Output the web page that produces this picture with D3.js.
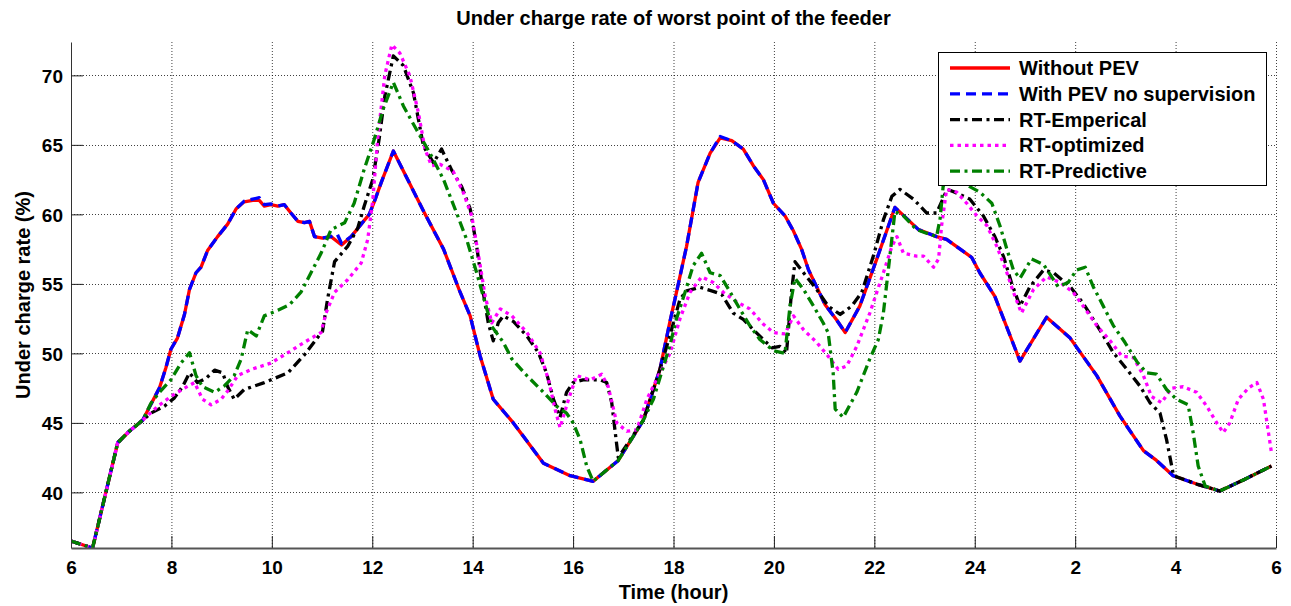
<!DOCTYPE html>
<html>
<head>
<meta charset="utf-8">
<script src="https://cdn.jsdelivr.net/npm/d3@7"></script>
<style>
  html, body { margin: 0; padding: 0; background: #fff; }
  svg { display: block; font-family: "Liberation Sans", Arial, sans-serif; }
</style>
</head>
<body>
<svg id="chart" width="1291" height="606"></svg>
<script>
// ---------------- DATA ----------------
const xTickValues = [6, 8, 10, 12, 14, 16, 18, 20, 22, 24, 26, 28, 30];
const xTickLabels = ["6", "8", "10", "12", "14", "16", "18", "20", "22", "24", "2", "4", "6"];
const yTickValues = [40, 45, 50, 55, 60, 65, 70];

const seriesNames = ["Without PEV", "With PEV no supervision", "RT-Emperical", "RT-optimized", "RT-Predictive"];

const withoutPevTime = [6, 6.43, 6.93, 7.16, 7.43, 7.6, 7.76, 7.89, 7.99, 8.12, 8.26, 8.36, 8.49, 8.59, 8.72, 8.92, 9.12, 9.29, 9.45, 9.62, 9.75, 9.85, 9.98, 10.12, 10.25, 10.38, 10.52, 10.65, 10.75, 10.85, 11.01, 11.18, 11.39, 11.58, 11.78, 11.94, 12.04, 12.18, 12.42, 13.02, 13.42, 13.75, 13.95, 14.15, 14.41, 14.81, 15.41, 15.94, 16.4, 16.9, 17.4, 17.73, 17.93, 18.06, 18.26, 18.49, 18.73, 18.93, 19.16, 19.39, 19.59, 19.79, 19.99, 20.22, 20.39, 20.55, 20.69, 20.85, 21.02, 21.25, 21.42, 21.71, 22.05, 22.41, 22.88, 23.24, 23.44, 23.71, 23.94, 24.1, 24.4, 24.9, 25.43, 25.9, 26.43, 26.89, 27.36, 27.62, 27.95, 28.42, 28.88, 29.35, 29.91];
const withoutPevValue = [36.5, 36.0, 43.57, 44.4, 45.2, 46.4, 47.5, 48.97, 50.3, 51.1, 52.8, 54.6, 55.8, 56.2, 57.4, 58.4, 59.3, 60.4, 60.9, 61.0, 61.0, 60.6, 60.7, 60.6, 60.7, 60.1, 59.5, 59.4, 59.5, 58.4, 58.3, 58.4, 57.8, 58.4, 59.3, 60.0, 60.9, 62.3, 64.56, 60.24, 57.5, 54.4, 52.7, 49.8, 46.7, 45.0, 42.1, 41.2, 40.8, 42.3, 45.2, 48.85, 52.3, 54.4, 57.7, 62.3, 64.4, 65.5, 65.3, 64.7, 63.5, 62.5, 60.8, 59.9, 58.8, 57.5, 56.0, 54.8, 53.5, 52.4, 51.5, 53.4, 56.8, 60.5, 58.9, 58.4, 58.2, 57.5, 56.9, 55.8, 54.1, 49.45, 52.6, 51.1, 48.4, 45.5, 43.0, 42.3, 41.2, 40.6, 40.1, 40.9, 41.9];

const withPevTime = [6, 6.43, 6.93, 7.16, 7.43, 7.6, 7.76, 7.89, 7.99, 8.12, 8.26, 8.36, 8.49, 8.59, 8.72, 8.92, 9.12, 9.29, 9.45, 9.62, 9.75, 9.85, 9.98, 10.12, 10.25, 10.38, 10.52, 10.65, 10.75, 10.85, 11.01, 11.18, 11.3, 11.39, 11.58, 11.78, 11.94, 12.04, 12.18, 12.42, 13.02, 13.42, 13.75, 13.95, 14.15, 14.41, 14.81, 15.41, 15.94, 16.4, 16.9, 17.4, 17.73, 17.93, 18.06, 18.26, 18.49, 18.73, 18.93, 19.16, 19.39, 19.59, 19.79, 19.99, 20.22, 20.39, 20.55, 20.69, 20.85, 21.02, 21.25, 21.42, 21.71, 22.05, 22.41, 22.88, 23.24, 23.44, 23.71, 23.94, 24.1, 24.4, 24.9, 25.43, 25.9, 26.43, 26.89, 27.36, 27.62, 27.95, 28.42, 28.88, 29.35, 29.91];
const withPevValue = [36.5, 36.0, 43.57, 44.4, 45.2, 46.4, 47.5, 48.97, 50.3, 51.1, 52.8, 54.6, 55.8, 56.2, 57.4, 58.4, 59.3, 60.4, 60.95, 61.1, 61.2, 60.7, 60.75, 60.6, 60.7, 60.1, 59.5, 59.4, 59.5, 58.4, 58.3, 58.4, 58.6, 57.9, 58.4, 59.3, 60.0, 60.9, 62.3, 64.56, 60.24, 57.5, 54.4, 52.7, 49.8, 46.7, 45.0, 42.1, 41.2, 40.8, 42.3, 45.2, 48.85, 52.3, 54.4, 57.7, 62.3, 64.4, 65.6, 65.3, 64.7, 63.5, 62.5, 60.8, 59.9, 58.8, 57.5, 56.0, 54.8, 53.5, 52.4, 51.5, 53.4, 56.8, 60.5, 58.9, 58.4, 58.2, 57.5, 56.9, 55.8, 54.1, 49.45, 52.6, 51.1, 48.4, 45.5, 43.0, 42.3, 41.2, 40.6, 40.1, 40.9, 41.9];

const empiricalTime = [6, 6.43, 6.93, 7.16, 7.43, 7.59, 7.86, 8.06, 8.22, 8.36, 8.52, 8.69, 8.86, 9.02, 9.12, 9.25, 9.45, 9.85, 10.32, 10.65, 11.01, 11.11, 11.25, 11.51, 11.71, 11.84, 12.01, 12.14, 12.25, 12.42, 12.62, 12.82, 13.02, 13.22, 13.38, 13.58, 13.78, 13.95, 14.08, 14.21, 14.31, 14.41, 14.51, 14.61, 14.81, 15.08, 15.31, 15.47, 15.61, 15.74, 15.87, 16.0, 16.2, 16.54, 16.67, 16.77, 16.84, 16.9, 17.4, 17.73, 17.93, 18.13, 18.26, 18.53, 18.76, 18.96, 19.19, 19.39, 19.59, 19.79, 19.96, 20.12, 20.25, 20.35, 20.42, 20.59, 20.85, 21.08, 21.32, 21.55, 21.75, 21.98, 22.18, 22.35, 22.51, 22.78, 23.04, 23.24, 23.45, 23.6, 23.9, 24.17, 24.4, 24.57, 24.73, 24.9, 25.1, 25.37, 25.57, 25.9, 26.16, 26.49, 26.76, 27.03, 27.29, 27.49, 27.69, 27.82, 27.96, 28.42, 28.88, 29.35, 29.91];
const empiricalValue = [36.5, 36.0, 43.57, 44.4, 45.2, 45.7, 46.2, 46.8, 47.6, 48.6, 47.9, 48.2, 48.8, 48.6, 47.6, 46.7, 47.4, 47.9, 48.6, 49.9, 51.6, 53.9, 56.6, 57.7, 59.0, 60.6, 62.5, 65.5, 68.5, 71.4, 70.7, 68.75, 64.9, 63.7, 64.7, 63.2, 62.0, 60.4, 57.7, 54.4, 52.2, 50.9, 52.2, 52.7, 52.3, 51.25, 50.05, 48.6, 46.7, 45.4, 47.2, 47.9, 48.1, 48.1, 47.9, 46.45, 44.3, 42.5, 45.2, 48.85, 51.3, 53.9, 54.5, 54.75, 54.5, 54.25, 52.9, 52.45, 51.7, 51.0, 50.4, 50.5, 50.0, 54.4, 56.6, 55.8, 54.6, 53.4, 52.8, 53.4, 54.4, 57.0, 59.6, 61.3, 61.8, 61.1, 60.1, 60.1, 61.8, 61.6, 61.1, 59.9, 58.4, 57.0, 55.1, 53.4, 54.8, 56.0, 55.8, 54.8, 53.6, 51.7, 50.05, 48.85, 47.65, 46.45, 45.7, 43.8, 41.2, 40.6, 40.1, 40.9, 41.9];

const optimizedTime = [6, 6.43, 6.93, 7.16, 7.43, 7.73, 7.99, 8.26, 8.46, 8.62, 8.79, 8.99, 9.12, 9.32, 9.59, 9.98, 10.32, 10.65, 10.98, 11.08, 11.25, 11.51, 11.78, 11.91, 12.01, 12.11, 12.25, 12.39, 12.55, 12.75, 12.92, 13.05, 13.18, 13.35, 13.61, 13.81, 13.98, 14.11, 14.25, 14.38, 14.55, 14.78, 15.08, 15.34, 15.51, 15.64, 15.74, 15.91, 16.07, 16.34, 16.57, 16.7, 16.87, 17.07, 17.27, 17.47, 17.73, 17.93, 18.13, 18.33, 18.56, 18.79, 18.99, 19.26, 19.52, 19.79, 19.99, 20.22, 20.39, 20.59, 20.85, 21.08, 21.28, 21.45, 21.65, 21.91, 22.18, 22.35, 22.45, 22.58, 22.84, 22.98, 23.18, 23.28, 23.34, 23.44, 23.64, 23.84, 24.04, 24.24, 24.44, 24.64, 24.77, 24.93, 25.17, 25.43, 25.7, 25.96, 26.2, 26.43, 26.7, 26.93, 27.16, 27.36, 27.52, 27.72, 27.92, 28.15, 28.42, 28.62, 28.82, 28.95, 29.08, 29.25, 29.45, 29.62, 29.75, 29.85, 29.91];
const optimizedValue = [36.5, 36.0, 43.57, 44.4, 45.2, 46.2, 46.9, 47.5, 47.9, 46.7, 46.3, 46.7, 47.3, 48.4, 48.85, 49.3, 50.05, 50.8, 51.5, 52.9, 54.4, 55.3, 56.5, 58.2, 61.0, 65.5, 70.0, 72.2, 71.6, 69.95, 67.3, 64.7, 63.5, 63.6, 63.1, 61.6, 59.9, 57.2, 54.1, 52.2, 53.2, 52.7, 51.5, 50.05, 48.1, 46.0, 44.65, 46.7, 48.4, 48.1, 48.5, 47.6, 45.0, 44.4, 44.5, 46.7, 48.6, 50.0, 52.5, 54.4, 55.5, 55.1, 54.4, 53.7, 53.2, 52.1, 51.5, 51.4, 52.7, 51.7, 50.8, 49.8, 48.85, 49.1, 50.5, 52.9, 55.8, 57.7, 58.4, 57.2, 57.0, 57.0, 56.2, 56.8, 59.2, 61.8, 61.6, 60.8, 59.9, 59.2, 57.7, 55.8, 54.4, 52.9, 54.6, 55.5, 55.1, 54.4, 53.2, 52.0, 50.9, 49.8, 49.7, 48.4, 46.9, 46.45, 47.5, 47.6, 47.2, 46.2, 45.0, 44.3, 45.0, 46.7, 47.5, 47.9, 46.7, 44.3, 42.85];

const predictiveTime = [6, 6.43, 6.93, 7.16, 7.43, 7.59, 7.76, 7.99, 8.19, 8.36, 8.49, 8.62, 8.86, 9.05, 9.25, 9.39, 9.52, 9.69, 9.85, 10.12, 10.35, 10.58, 10.78, 10.98, 11.18, 11.45, 11.64, 11.84, 12.04, 12.22, 12.42, 12.62, 12.88, 13.15, 13.42, 13.68, 13.88, 14.08, 14.25, 14.38, 14.61, 14.78, 15.08, 15.41, 15.67, 15.87, 16.0, 16.14, 16.27, 16.4, 16.9, 17.4, 17.6, 17.93, 18.06, 18.23, 18.39, 18.56, 18.73, 18.93, 19.13, 19.32, 19.52, 19.72, 19.99, 20.22, 20.32, 20.42, 20.59, 20.79, 20.98, 21.08, 21.18, 21.22, 21.38, 21.65, 21.91, 22.08, 22.18, 22.31, 22.41, 22.58, 22.84, 23.24, 23.31, 23.37, 23.5, 23.7, 23.9, 24.1, 24.34, 24.5, 24.64, 24.77, 24.9, 25.13, 25.37, 25.66, 25.86, 26.03, 26.2, 26.36, 26.56, 26.76, 26.99, 27.23, 27.42, 27.62, 27.82, 28.02, 28.25, 28.35, 28.45, 28.59, 28.88, 29.35, 29.91];
const predictiveValue = [36.5, 36.0, 43.57, 44.4, 45.2, 46.4, 47.2, 48.1, 49.3, 50.05, 48.4, 47.6, 47.2, 47.65, 48.4, 49.6, 51.7, 51.25, 52.7, 53.1, 53.5, 54.4, 55.8, 57.2, 58.9, 59.4, 60.8, 63.25, 65.4, 67.6, 69.5, 67.8, 66.1, 64.4, 62.5, 60.1, 58.2, 55.8, 53.6, 51.95, 50.8, 49.6, 48.4, 47.2, 46.2, 45.7, 45.0, 43.8, 41.9, 40.8, 42.3, 45.2, 46.7, 50.6, 52.5, 54.4, 56.3, 57.2, 55.8, 55.6, 54.4, 53.2, 52.0, 51.0, 50.2, 50.0, 53.4, 55.4, 54.6, 53.4, 52.2, 51.5, 48.6, 46.0, 45.4, 47.2, 49.6, 51.0, 52.9, 57.0, 60.2, 59.9, 58.9, 58.4, 59.7, 62.0, 63.0, 62.8, 62.0, 61.6, 60.8, 59.2, 57.5, 56.0, 55.4, 56.8, 56.4, 54.8, 55.1, 56.0, 56.2, 54.8, 53.4, 52.0, 50.8, 49.4, 48.6, 48.5, 47.4, 46.7, 46.3, 44.3, 41.9, 40.45, 40.1, 40.9, 41.9];

// ---------------- LAYOUT ----------------
const W = 1291, H = 606;
const plot = { left: 71, right: 1276, top: 42, bottom: 548 };
const FONT = "'Liberation Sans', Arial, sans-serif";

const series = [
  { name: seriesNames[0], t: withoutPevTime, v: withoutPevValue, color: "#ff0000", dash: null },
  { name: seriesNames[1], t: withPevTime, v: withPevValue, color: "#0000ff", dash: "10,6" },
  { name: seriesNames[2], t: empiricalTime, v: empiricalValue, color: "#000000", dash: "10,4.5,3,4.5" },
  { name: seriesNames[3], t: optimizedTime, v: optimizedValue, color: "#ff00ff", dash: "3.5,4" },
  { name: seriesNames[4], t: predictiveTime, v: predictiveValue, color: "#008000", dash: "10,4.5,3,4.5" }
];

const svg = d3.select("#chart");
const x = d3.scaleLinear().domain([6, 30]).range([plot.left, plot.right]);
const y = d3.scaleLinear().domain([36, 72.4]).range([plot.bottom, plot.top]);

// grid
const grid = svg.append("g").attr("class", "grid");
grid.selectAll("line.vx").data(xTickValues.slice(1)).join("line")
  .attr("x1", d => x(d) + 0.5).attr("x2", d => x(d) + 0.5)
  .attr("y1", plot.top).attr("y2", plot.bottom)
  .attr("stroke", "#000").attr("stroke-opacity", 0.75).attr("stroke-width", 1).attr("stroke-dasharray", "1,2");
grid.selectAll("line.hy").data(yTickValues).join("line")
  .attr("x1", plot.left).attr("x2", plot.right)
  .attr("y1", d => Math.round(y(d)) + 0.5).attr("y2", d => Math.round(y(d)) + 0.5)
  .attr("stroke", "#000").attr("stroke-opacity", 0.75).attr("stroke-width", 1).attr("stroke-dasharray", "1,2");

// clip
svg.append("clipPath").attr("id", "clip").append("rect")
  .attr("x", plot.left).attr("y", plot.top)
  .attr("width", plot.right - plot.left).attr("height", plot.bottom - plot.top);

const line = d3.line().x(d => x(d[0])).y(d => y(d[1]));
const lines = svg.append("g").attr("clip-path", "url(#clip)");
series.forEach(s => {
  const pts = s.t.map((t, i) => [t, s.v[i]]);
  lines.append("path").datum(pts)
    .attr("d", line)
    .attr("fill", "none")
    .attr("stroke", s.color)
    .attr("stroke-width", 3.3)
    .attr("stroke-linejoin", "round")
    .attr("stroke-dasharray", s.dash);
});

// axes
const xAxis = d3.axisBottom(x).tickValues(xTickValues)
  .tickFormat((d, i) => xTickLabels[i]).tickSizeInner(-12).tickSizeOuter(0).tickPadding(13);
const gx = svg.append("g").attr("transform", `translate(0,${plot.bottom})`).call(xAxis);
gx.select(".domain").attr("stroke", "#555").attr("stroke-width", 2);
gx.selectAll(".tick line").attr("stroke", "#222").attr("stroke-width", 1);
gx.selectAll(".tick text").attr("font-size", 19).attr("font-weight", "bold")
  .attr("font-family", FONT).attr("fill", "#000").attr("dy", "0.71em");

const yAxis = d3.axisLeft(y).tickValues(yTickValues)
  .tickSizeInner(-12).tickSizeOuter(0).tickPadding(8);
const gy = svg.append("g").attr("transform", `translate(${plot.left},0)`).call(yAxis);
gy.select(".domain").attr("stroke", "#333").attr("stroke-width", 1);
gy.selectAll(".tick line").attr("stroke", "#222").attr("stroke-width", 1);
gy.selectAll(".tick text").attr("font-size", 19).attr("font-weight", "bold")
  .attr("font-family", FONT).attr("fill", "#000").attr("dy", "0.36em");

// titles
svg.append("text").attr("x", (plot.left + plot.right) / 2).attr("y", 25)
  .attr("text-anchor", "middle").attr("font-size", 20).attr("font-weight", "bold")
  .text("Under charge rate of worst point of the feeder");
svg.append("text").attr("x", (plot.left + plot.right) / 2).attr("y", 599)
  .attr("text-anchor", "middle").attr("font-size", 20).attr("font-weight", "bold")
  .text("Time (hour)");
svg.append("text").attr("transform", `translate(30,${(plot.top + plot.bottom) / 2}) rotate(-90)`)
  .attr("text-anchor", "middle").attr("font-size", 20).attr("font-weight", "bold")
  .text("Under charge rate (%)");

// legend
const lg = svg.append("g");
lg.append("rect").attr("x", 938.5).attr("y", 52.5).attr("width", 328).attr("height", 133)
  .attr("fill", "#fff").attr("stroke", "#000").attr("stroke-width", 1);
series.forEach((s, i) => {
  const yy = 68 + i * 25.8;
  lg.append("line").attr("x1", 950).attr("x2", 1010).attr("y1", yy).attr("y2", yy)
    .attr("stroke", s.color).attr("stroke-width", 3.3).attr("stroke-dasharray", s.dash);
  lg.append("text").attr("x", 1019).attr("y", yy + 7)
    .attr("font-size", 20).attr("font-weight", "bold").text(s.name);
});
</script>
</body>
</html>
